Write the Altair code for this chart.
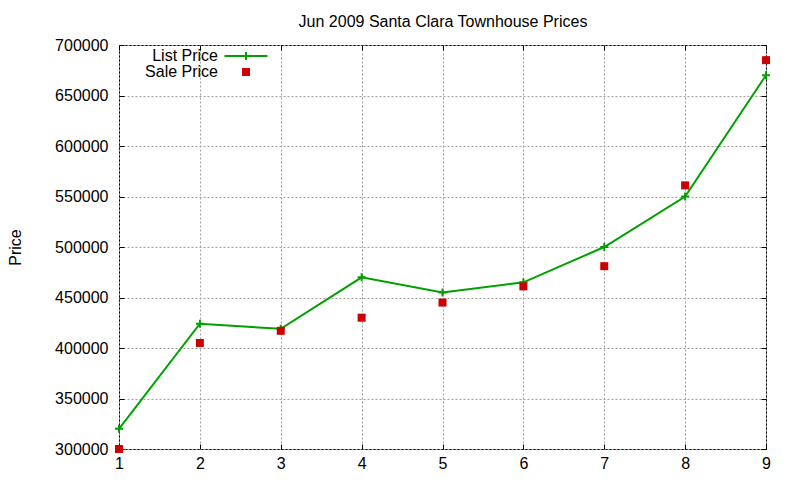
import altair as alt
import pandas as pd

lots = [1, 2, 3, 4, 5, 6, 7, 8, 9]
list_price = [320000, 424000, 419000, 470000, 455000, 465000, 500000, 550000, 670000]
sale_price = [300000, 405000, 417000, 430000, 445000, 461000, 481000, 561000, 685000]
series_names = ['List Price', 'Sale Price']
x_ticks = [1, 2, 3, 4, 5, 6, 7, 8, 9]
y_ticks = [300000, 350000, 400000, 450000, 500000, 550000, 600000, 650000, 700000]

green = '#00a000'
red = '#cc0000'
font = 'Liberation Sans'

df_list = pd.DataFrame({'lot': lots, 'price': list_price})
df_sale = pd.DataFrame({'lot': lots, 'price': sale_price})
# key rows sit below the y domain and get clipped, they only feed the legend
df_key = pd.DataFrame({'series': series_names, 'lot': [1, 1], 'price': [0, 0]})

x_scale = alt.Scale(domain=[1, 9], nice=False, zero=False)
y_scale = alt.Scale(domain=[300000, 700000], nice=False, zero=False)

tick_in = {'expr': '-5'}

axis_bottom = alt.Axis(
    orient='bottom', values=x_ticks, format='d', title=None,
    grid=True, gridColor='#a0a0a0', gridDash=[2, 2],
    domain=False, tickSize=tick_in, tickColor='black',
    labelPadding=11, labelFlush=False, labelFont=font, labelFontSize=16, labelColor='black'
)
axis_left = alt.Axis(
    orient='left', values=y_ticks, format='d', title='Price',
    grid=True, gridColor='#a0a0a0', gridDash=[2, 2],
    domain=False, tickSize=tick_in, tickColor='black',
    labelPadding=16, labelFlush=False, labelFont=font, labelFontSize=16, labelColor='black',
    titleFont=font, titleFontSize=16, titleFontWeight='normal', titleColor='black',
    titleAngle=270, titleX=-104, titleY=202, titleAlign='center', titleBaseline='middle'
)
# the top axis carries the chart title so it can be placed exactly
axis_top = alt.Axis(
    orient='top', values=x_ticks, grid=False, labels=False,
    domain=False, tickSize=tick_in, tickColor='black', minExtent=0,
    title='Jun 2009 Santa Clara Townhouse Prices',
    titleFont=font, titleFontSize=16, titleFontWeight='normal', titleColor='black',
    titleX=323.5, titleY=-19, titleAlign='center', titleBaseline='alphabetic'
)
axis_right = alt.Axis(
    orient='right', values=y_ticks, title=None, grid=False, labels=False,
    domain=False, tickSize=tick_in, tickColor='black', minExtent=0
)

list_line = alt.Chart(df_list).mark_line(color=green, strokeWidth=2).encode(
    alt.X('lot:Q').scale(x_scale).axis(axis_bottom),
    alt.Y('price:Q').scale(y_scale).axis(axis_left)
)

list_marks = alt.Chart(df_list).mark_point(
    shape='M-1,0H1M0,-1V1', size=64, color=green, strokeWidth=2, filled=False, opacity=1
).encode(
    alt.X('lot:Q').scale(x_scale).axis(None),
    alt.Y('price:Q').scale(y_scale).axis(None)
)

sale_marks = alt.Chart(df_sale).mark_square(size=64, color=red, opacity=1).encode(
    alt.X('lot:Q').scale(x_scale).axis(axis_top),
    alt.Y('price:Q').scale(y_scale).axis(axis_right)
)

key = alt.Chart(df_key).mark_point(clip=True, opacity=1).encode(
    alt.X('lot:Q').scale(x_scale).axis(None),
    alt.Y('price:Q').scale(y_scale).axis(None),
    shape=alt.Shape('series:N', legend=alt.Legend(title=None),
                    scale=alt.Scale(domain=series_names,
                                    range=['M-4.3,0H4.3M0,-0.8V0.8', 'M-0.8,-0.8H0.8V0.8H-0.8Z'])),
    fill=alt.Fill('series:N', legend=alt.Legend(title=None),
                  scale=alt.Scale(domain=series_names, range=['transparent', red])),
    stroke=alt.Stroke('series:N', legend=alt.Legend(title=None),
                      scale=alt.Scale(domain=series_names, range=[green, 'transparent']))
)

chart = alt.layer(list_line, list_marks, sale_marks, key).resolve_axis(
    x='independent', y='independent'
).properties(
    width=647,
    height=404,
    autosize=alt.AutoSizeParams(type='none'),
    padding={'left': 111, 'top': 37, 'right': 26, 'bottom': 23}
).configure_view(
    stroke='black', strokeWidth=1
).configure_legend(
    orient='none', legendX=119, legendY=3, padding=0,
    labelAlign='right', labelOffset={'expr': '-36'}, labelFont=font, labelFontSize=16,
    labelColor='black', symbolSize=100, symbolStrokeWidth=2, rowPadding=0
)

chart.save('out.html', embed_options={'renderer': 'svg', 'actions': False})
